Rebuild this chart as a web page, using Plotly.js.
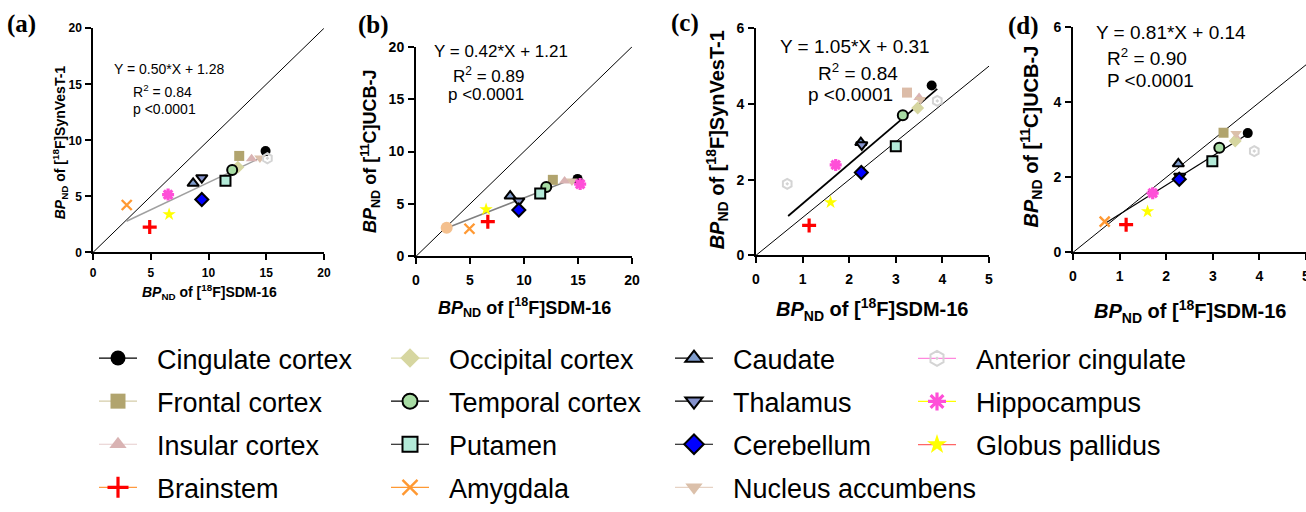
<!DOCTYPE html>
<html>
<head>
<meta charset="utf-8">
<script src="https://cdn.plot.ly/plotly-3.0.1.min.js"></script>
<style>html,body{margin:0;padding:0;background:#fff;}#chart{width:1306px;height:512px;}</style>
</head>
<body>
<div id="chart"></div>
<script>
// ---------------- DATA ----------------
const regions = ['Cingulate cortex','Frontal cortex','Insular cortex','Brainstem',
  'Occipital cortex','Temporal cortex','Putamen','Amygdala',
  'Caudate','Thalamus','Cerebellum','Nucleus accumbens',
  'Anterior cingulate','Hippocampus','Globus pallidus'];

// (a) SynVesT-1 vs SDM-16 (BPND, 0-20 scale)
const aX = [14.94, 12.66, 13.73, 4.91, 12.54, 12.05, 11.47, 2.92, 8.67, 9.42, 9.42, 14.45, 15.10, 6.50, 6.59];
const aY = [ 9.04,  8.61,  8.35, 2.26,  7.60,  7.36,  6.40, 4.23, 6.17, 6.67, 4.72,  8.43,  8.40, 5.16, 3.39];
// (b) UCB-J vs SDM-16
const bX = [14.96, 12.67, 13.76, 6.65, null, 12.06, 11.50, 4.95, 8.72, 9.52, 9.52, 14.44, null, 15.20, 6.49];
const bY = [ 7.39,  7.30,  7.20, 3.31, null,  6.62,  6.00, 2.63, 5.75, 5.29, 4.42,  7.20, null,  6.90, 4.48];
const bExtraX = [2.84];
const bExtraY = [2.72];
// (c) SynVesT-1 vs SDM-16 (0-6 scale)
const cX = [3.77, 3.24, 3.50, 1.14, 3.47, 3.15, 3.00, null, 2.25, 2.27, 2.26, 3.53, 3.89, 1.71, 1.60];
const cY = [4.49, 4.30, 4.17, 0.79, 3.89, 3.70, 2.88, null, 2.98, 2.92, 2.19, 4.12, 4.08, 2.39, 1.40];
const cExtraX = [0.67];
const cExtraY = [1.89];
// (d) UCB-J vs SDM-16
const dX = [3.75, 3.23, 3.50, 1.14, 3.48, 3.14, 2.99, 0.68, 2.26, 2.29, 2.28, 3.50, 3.89, 1.71, 1.60];
const dY = [3.18, 3.19, 3.06, 0.74, 2.97, 2.79, 2.43, 0.82, 2.36, 2.03, 1.95, 3.17, 2.70, 1.58, 1.09];

// regression segments and identity lines
const fitAX = [2.9, 15.1],  fitAY = [2.78, 8.73];
const fitBX = [2.9, 14.6],  fitBY = [2.72, 7.42];
const fitCX = [0.69, 3.89], fitCY = [1.04, 4.40];
const fitDX = [0.72, 3.76], fitDY = [0.80, 3.16];
const idAB = [0, 20];
const idCD = [0, 5];

const eqA = ['Y = 0.50*X + 1.28', 'R<sup>2</sup> = 0.84', 'p <0.0001'];
const eqB = ['Y = 0.42*X + 1.21', 'R<sup>2</sup> = 0.89', 'p <0.0001'];
const eqC = ['Y = 1.05*X + 0.31', 'R<sup>2</sup> = 0.84', 'p <0.0001'];
const eqD = ['Y = 0.81*X + 0.14', 'R<sup>2</sup> = 0.90', 'P <0.0001'];

// ---------------- STYLE ----------------
const W = 1306, H = 512;
const FONT = 'Liberation Sans, Arial, sans-serif';
const styles = [
  {sym:'circle', color:'#000000', lc:'#000000', lw:0, leg:'#000000'},
  {sym:'square', color:'#b1a46e', lc:'#b1a46e', lw:0, leg:'#d4cca8'},
  {sym:'triangle-up', color:'#d9b3b3', lc:'#d9b3b3', lw:0, leg:'#e6cccc'},
  {sym:'cross-thin', color:'#ff0000', lc:'#ff0000', lw:3.2, leg:'#ff9a40'},
  {sym:'diamond', color:'#d6d6a0', lc:'#d6d6a0', lw:0, leg:'#dcdcb0'},
  {sym:'circle', color:'#a8dca4', lc:'#000000', lw:2, leg:'#000000'},
  {sym:'square', color:'#b3ead8', lc:'#000000', lw:2, leg:'#000000'},
  {sym:'x-thin', color:'#ff9933', lc:'#ff9933', lw:2.4, leg:'#ff9933'},
  {sym:'triangle-up', color:'#7f9ccc', lc:'#000000', lw:2, leg:'#000000'},
  {sym:'triangle-down', color:'#8592cc', lc:'#000000', lw:2, leg:'#000000'},
  {sym:'diamond', color:'#0000ff', lc:'#000000', lw:2, leg:'#000000'},
  {sym:'triangle-down', color:'#dbc0aa', lc:'#dbc0aa', lw:0, leg:'#e6d2c4'},
  {sym:'hexagon-open-dot', color:'#d4d4d4', lc:'#d4d4d4', lw:2, leg:'#ff88dd'},
  {sym:'asterisk-open', color:'#ff4fd8', lc:'#ff4fd8', lw:3.2, leg:'#ffff00'},
  {sym:'star', color:'#ffff00', lc:'#ffff00', lw:0, leg:'#ff6666'}
];
const legendOf = [1,1,1,1, 2,2,2,2, 3,3,3,3, 4,4,4];

function px(x){ return x / W; }
function py(y){ return 1 - y / H; }

function markerFor(i, size, colorOverride){
  const s = styles[i];
  const col = colorOverride || s.color;
  const open = s.sym.indexOf('open') >= 0 || s.sym.indexOf('thin') >= 0;
  return {symbol: s.sym, size: size, color: col,
    line: {color: open ? col : s.lc, width: s.lw}};
}

const traces = [];
function addPanel(xs, ys, xa, ya, size, overrides){
  for (let i = 0; i < regions.length; i++){
    if (xs[i] === null) continue;
    traces.push({type:'scatter', mode:'markers', x:[xs[i]], y:[ys[i]], xaxis:xa, yaxis:ya,
      name: regions[i], showlegend:false, cliponaxis:false,
      marker: markerFor(i, size, overrides && overrides[i]), hoverinfo:'x+y+name'});
  }
}
function addLine(xs, ys, xa, ya, color, width){
  traces.push({type:'scatter', mode:'lines', x:xs, y:ys, xaxis:xa, yaxis:ya, showlegend:false,
    line:{color:color, width:width}, hoverinfo:'skip', cliponaxis:false});
}

// identity + fit lines first (behind markers)
addLine(idAB, idAB, 'x', 'y', '#000000', 1);
addLine(fitAX, fitAY, 'x', 'y', '#a0a0a0', 1.5);
addLine(idAB, idAB, 'x2', 'y2', '#000000', 1);
addLine(fitBX, fitBY, 'x2', 'y2', '#808080', 1.5);
addLine(idCD, idCD, 'x3', 'y3', '#000000', 1);
addLine(fitCX, fitCY, 'x3', 'y3', '#000000', 1.8);
addLine(idCD, idCD, 'x4', 'y4', '#000000', 1);
addLine(fitDX, fitDY, 'x4', 'y4', '#000000', 1.2);

addPanel(aX, aY, 'x', 'y', 10, null);
addPanel(bX, bY, 'x2', 'y2', 10, null);
traces.push({type:'scatter', mode:'markers', x:bExtraX, y:bExtraY, xaxis:'x2', yaxis:'y2', showlegend:false,
  name:'', marker:{symbol:'circle', size:12, color:'#f4c08e', line:{width:0}}, cliponaxis:false});
addPanel(cX, cY, 'x3', 'y3', 10, {1:'#dcbca8'});
traces.push({type:'scatter', mode:'markers', x:cExtraX, y:cExtraY, xaxis:'x3', yaxis:'y3', showlegend:false,
  name:'Anterior cingulate', marker:markerFor(12, 10), cliponaxis:false});
addPanel(dX, dY, 'x4', 'y4', 10, null);

// legend entries (no data drawn)
const PAD = '\u00a0\u00a0';
for (let i = 0; i < regions.length; i++){
  const s = styles[i];
  const lid = legendOf[i] === 1 ? 'legend' : 'legend' + legendOf[i];
  traces.push({type:'scatter', mode:'lines+markers', x:[null], y:[null], xaxis:'x', yaxis:'y',
    name: PAD + regions[i], legend: lid, legendgroup: regions[i], showlegend:true,
    line:{color:s.leg, width:1.2}, marker: markerFor(i, 15, null)});
}

// ---------------- LAYOUT ----------------
function axis(domain, range, dtick, anchor, tsize, lw, standoff){
  return {domain: domain, range: range, dtick: dtick, tick0: 0, anchor: anchor,
    showgrid:false, zeroline:false, showline:true, linecolor:'#000', linewidth: lw,
    ticks:'outside', ticklen:6, tickwidth: lw, tickcolor:'#000',
    ticklabelstandoff: standoff, ticklabeloverflow:'allow',
    tickfont:{family:FONT, size:tsize, color:'#000', weight:'bold'}, fixedrange:true};
}
const layout = {
  width: W, height: H, margin:{l:0, r:0, t:0, b:0, pad:0},
  paper_bgcolor:'#fff', plot_bgcolor:'rgba(0,0,0,0)', showlegend:true,
  xaxis:  axis([px(93), px(324)], [0,20], 5, 'y', 12, 1.5, 2),
  yaxis:  axis([py(259), py(29)], [0,20], 5, 'x', 12, 1.5, 1),
  xaxis2: axis([px(416), px(632)], [0,20], 5, 'y2', 14, 2, 4),
  yaxis2: axis([py(263), py(48)], [0,20], 5, 'x2', 14, 2, 1),
  xaxis3: axis([px(756), px(989)], [0,5], 1, 'y3', 14, 2, 4),
  yaxis3: axis([py(262), py(29)], [0,6], 2, 'x3', 14, 2, 1),
  xaxis4: axis([px(1073), px(1306)], [0,5], 1, 'y4', 14, 2, 4),
  yaxis4: axis([py(259), py(28)], [0,6], 2, 'x4', 14, 2, 1),
  annotations: [],
  hovermode:'closest'
};
const legBase = {xanchor:'left', yanchor:'top', bgcolor:'rgba(0,0,0,0)', borderwidth:0,
  font:{family:FONT, size:27, color:'#000'}, tracegroupgap:5, itemwidth:38, itemclick:false, itemdoubleclick:false};
layout.legend  = Object.assign({}, legBase, {x: px(94),  y: py(343)});
layout.legend2 = Object.assign({}, legBase, {x: px(386), y: py(343)});
layout.legend3 = Object.assign({}, legBase, {x: px(670), y: py(343)});
layout.legend4 = Object.assign({}, legBase, {x: px(913), y: py(343)});

function ann(text, x, y, size, opts){
  layout.annotations.push(Object.assign({text:text, xref:'paper', yref:'paper', x:px(x), y:py(y),
    xanchor:'left', yanchor:'middle', showarrow:false,
    font:{family:FONT, size:size, color:'#000'}}, opts || {}));
}
// panel labels
const SERIF = 'Liberation Serif, Times New Roman, serif';
[['(a)',5,25],['(b)',356,26],['(c)',669,24],['(d)',1006,27]].forEach(p =>
  ann('<b>' + p[0] + '</b>', p[1], p[2], 25, {font:{family:SERIF, size:25, color:'#000'}}));
// equations
ann(eqA[0], 112, 71, 14); ann(eqA[1], 131, 93, 14); ann(eqA[2], 131, 112, 14);
ann(eqB[0], 432, 53, 17); ann(eqB[1], 451, 77, 17); ann(eqB[2], 446, 97, 17);
ann(eqC[0], 778, 48, 19); ann(eqC[1], 816, 74, 19); ann(eqC[2], 806, 97, 19);
ann(eqD[0], 1094, 33, 19); ann(eqD[1], 1105, 58, 19); ann(eqD[2], 1105, 83, 19);
// axis titles
const xt = '<b><i>BP</i><sub>ND</sub> of [<sup>18</sup>F]SDM-16</b>';
const ytS = '<b><i>BP</i><sub>ND</sub> of [<sup>18</sup>F]SynVesT-1</b>';
const ytU = '<b><i>BP</i><sub>ND</sub> of [<sup>11</sup>C]UCB-J</b>';
ann(xt, 209, 300, 14, {xanchor:'center'});
ann(ytS, 60, 146, 14, {xanchor:'center', textangle:-90});
ann(xt, 524, 315, 18, {xanchor:'center'});
ann(ytU, 370, 155, 18, {xanchor:'center', textangle:-90});
ann(xt, 873, 318, 20, {xanchor:'center'});
ann(ytS, 717, 144, 20, {xanchor:'center', textangle:-90});
ann(xt, 1190, 320, 20, {xanchor:'center'});
ann(ytU, 1031, 140, 20, {xanchor:'center', textangle:-90});

Plotly.newPlot('chart', traces, layout, {staticPlot:false, displayModeBar:false});
</script>
</body>
</html>
